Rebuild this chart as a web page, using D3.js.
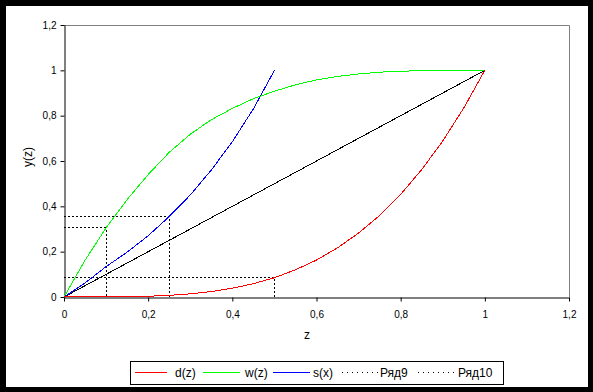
<!DOCTYPE html>
<html><head><meta charset="utf-8">
<script src="https://cdn.jsdelivr.net/npm/d3@7"></script>
<style>body{margin:0;background:#000}svg{display:block}text{font-family:"Liberation Sans",Arial,sans-serif}</style>
</head><body>
<script>
// ---- data ----
const zValues = [0,0.05,0.1,0.15,0.2,0.25,0.3,0.35,0.4,0.45,0.5,0.55,0.6,0.65,0.7,0.75,0.8,0.85,0.9,0.95,1];
const dValues = [0,0.00002,0.0003,0.0012,0.0033,0.0073,0.0139,0.024,0.0387,0.0587,0.085,0.12,0.163,0.217,0.282,0.36,0.453,0.562,0.688,0.834,1];
const wValues = [0,0.162,0.305,0.43,0.54,0.638,0.718,0.782,0.832,0.875,0.908,0.936,0.958,0.973,0.984,0.992,0.996,0.9986,0.9997,1,1];
const sX = [0,0.05,0.1,0.15,0.2,0.25,0.3,0.35,0.4,0.45,0.5];
const sValues = [0,0.062,0.134,0.198,0.27,0.355,0.45,0.56,0.685,0.83,1];
const diagX = [0,1];
const diagY = [0,1];
const r9X = [0,0.1,0.1,null,0,0.25,0.25];
const r9Y = [0.305,0.305,0,null,0.355,0.355,0];
const r10X = [0,0.5,0.5];
const r10Y = [0.085,0.085,0];
const tickValues = [0,0.2,0.4,0.6,0.8,1,1.2];
const legendLabels = ["d(z)","w(z)","s(x)","Ряд9","Ряд10"];

const W=593,H=392;
const svg=d3.select("body").append("svg").attr("width",W).attr("height",H);
svg.append("rect").attr("width",W).attr("height",H).attr("fill","#000");
svg.append("rect").attr("x",6).attr("y",6).attr("width",582).attr("height",381).attr("fill","#fff");

const x=d3.scaleLinear().domain([0,1.2]).range([64,569]);
const y=d3.scaleLinear().domain([0,1.2]).range([297,25]);
const fmt=v=>d3.format("~g")(v).replace(".",",");

// frame (gray top/right)
svg.append("path").attr("d",`M${x(0)},${y(1.2)+0.5}H${x(1.2)+0.5}V${y(0)}`).attr("fill","none").attr("stroke","#808080");

const xa=svg.append("g").attr("transform",`translate(0,${y(0)+0.5})`)
  .call(d3.axisBottom(x).tickValues(tickValues).tickSize(4).tickSizeOuter(0).tickPadding(9).tickFormat(fmt));
const ya=svg.append("g").attr("transform",`translate(${x(0)+0.5},0)`)
  .call(d3.axisLeft(y).tickValues(tickValues).tickSize(4).tickSizeOuter(0).tickPadding(4).tickFormat(fmt));
[xa,ya].forEach(g=>{g.selectAll("text").attr("font-size",10).attr("fill","#000").attr("font-family","Liberation Sans, Arial, sans-serif");
  g.selectAll("line,path").attr("stroke","#000");});

svg.append("text").attr("x",307).attr("y",339).attr("text-anchor","middle").attr("font-size",12).text("z");
svg.append("text").attr("transform","translate(32,157) rotate(-90)").attr("text-anchor","middle").attr("font-size",12).text("y(z)");

const line=d3.line().defined(d=>d[0]!=null).x(d=>x(d[0])).y(d=>y(d[1]));
const zip=(a,b)=>a.map((v,i)=>[v,b[i]]);
const g=svg.append("g").attr("fill","none").attr("stroke-width",1).attr("shape-rendering","crispEdges");
g.append("path").attr("d",line(zip(r9X,r9Y))).attr("stroke","#000").attr("stroke-dasharray","2,2");
g.append("path").attr("d",line(zip(r10X,r10Y))).attr("stroke","#000").attr("stroke-dasharray","2,2");
g.append("path").attr("d",line(zip(diagX,diagY))).attr("stroke","#000");
g.append("path").attr("d",line(zip(sX,sValues))).attr("stroke","#0000ff");
g.append("path").attr("d",line(zip(zValues,wValues))).attr("stroke","#00ff00");
g.append("path").attr("d",line(zip(zValues,dValues))).attr("stroke","#ff0000");

// legend
const lg=svg.append("g");
lg.append("rect").attr("x",130.5).attr("y",361.5).attr("width",373).attr("height",23).attr("fill","#fff").attr("stroke","#000");
const items=[{x1:135,x2:167,tx:175,c:"#ff0000",dash:null},{x1:203,x2:240,tx:245,c:"#00ff00",dash:null},
 {x1:273,x2:310,tx:313,c:"#0000ff",dash:null},{x1:342,x2:378,tx:380,c:"#000",dash:"1,4"},{x1:418,x2:455,tx:458,c:"#000",dash:"1,4"}];
items.forEach((it,i)=>{
  lg.append("line").attr("x1",it.x1).attr("x2",it.x2).attr("y1",372.5).attr("y2",372.5).attr("stroke",it.c).attr("stroke-dasharray",it.dash);
  lg.append("text").attr("x",it.tx).attr("y",372.5).attr("dy","0.35em").attr("font-size",12).text(legendLabels[i]);
});
</script>
</body></html>
